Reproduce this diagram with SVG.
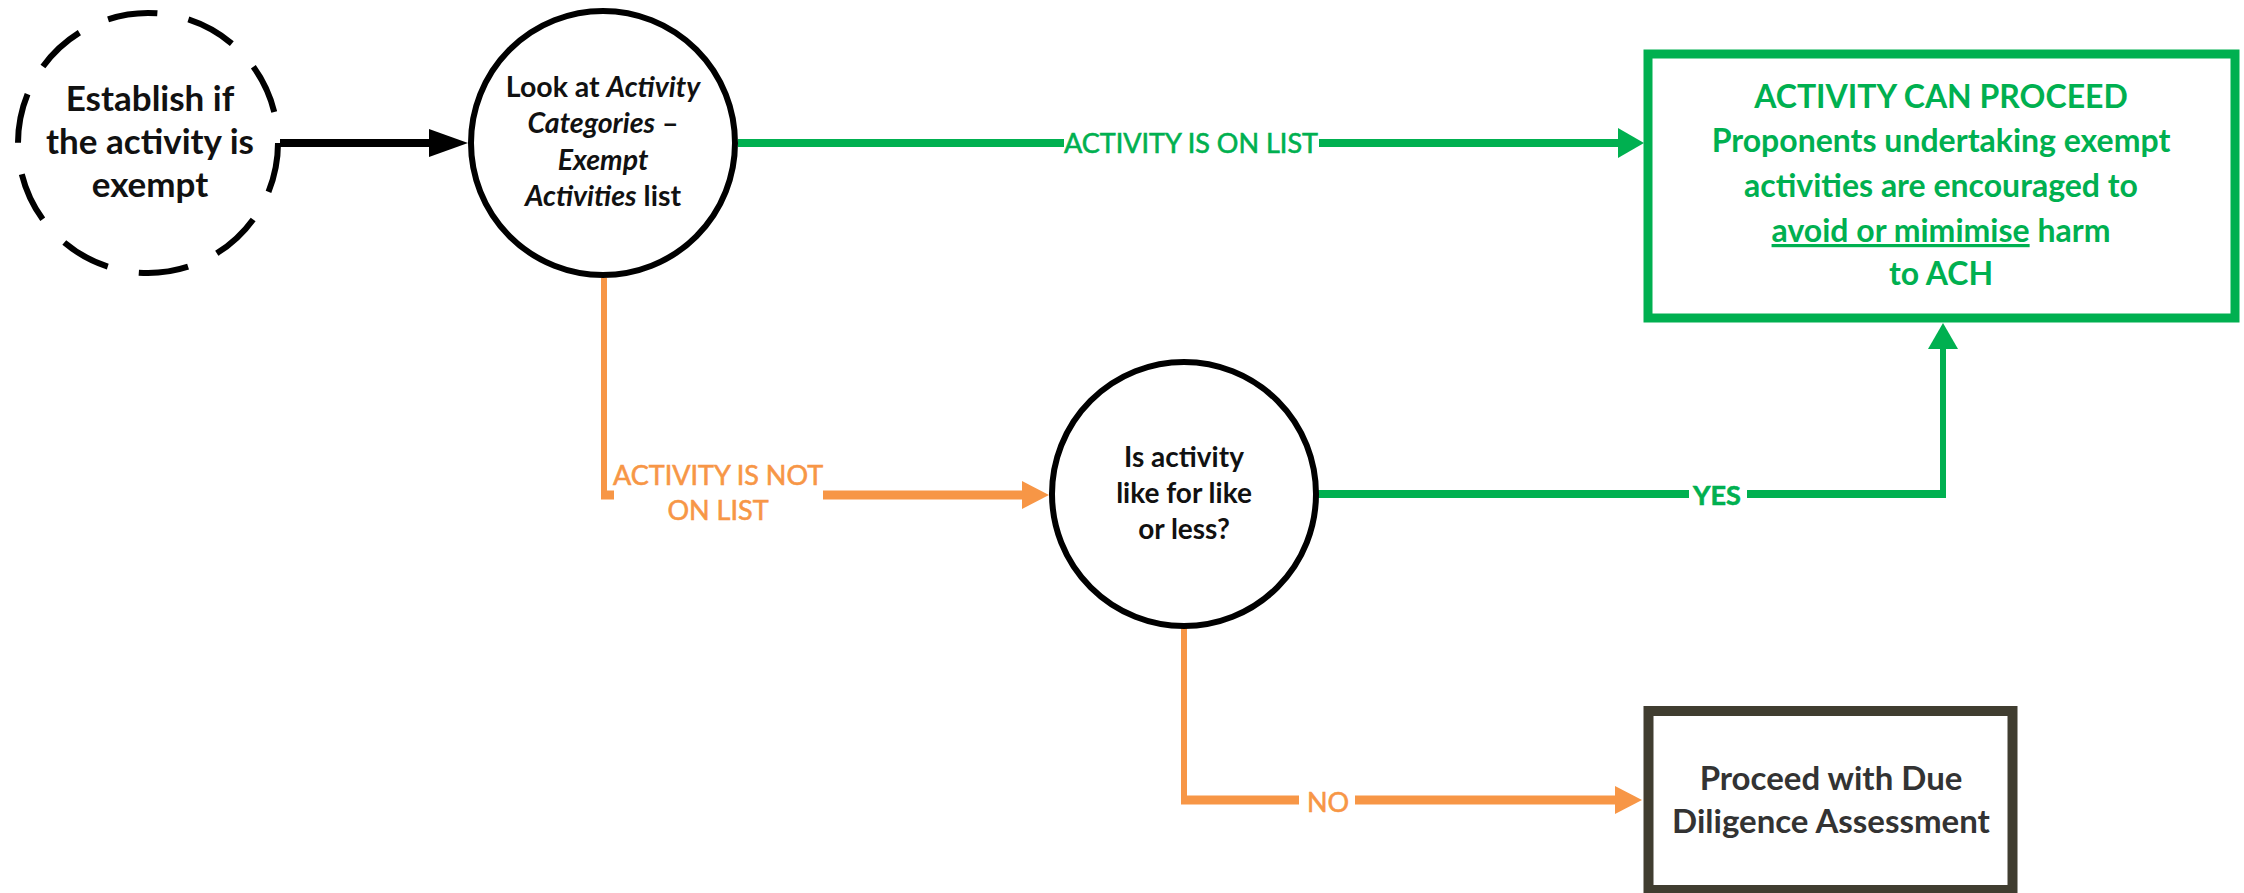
<svg xmlns="http://www.w3.org/2000/svg" width="2244" height="893" viewBox="0 0 2244 893">
<style>
.node{fill:#fff;stroke:#000;stroke-width:6}
.dash{stroke-dasharray:50 31.68}
.t{font-family:Lato,"Liberation Sans",sans-serif;font-weight:bold;text-anchor:middle;fill:#111}
.g{fill:#00B050}
.o{fill:#F79646}
.lbl{font-family:Lato,"Liberation Sans",sans-serif;text-anchor:middle;font-size:27px;stroke-width:0.6px}
.lbl.g{stroke:#00B050}
.lbl.o{stroke:#F79646}
.ck{fill:none;stroke-width:8}
.h{stroke-width:9}
.v{stroke-width:6}
.bk{stroke:#000}
.gr{stroke:#00B050}
.or{stroke:#F79646}
.bg{fill:#fff}
</style>
<defs>
<marker id="ab" markerUnits="userSpaceOnUse" markerWidth="40" markerHeight="28" refX="20" refY="14" orient="auto"><path d="M0,0 L39,14 L0,28 Z" fill="#000"/></marker>
<marker id="ag" markerUnits="userSpaceOnUse" markerWidth="27" markerHeight="30" refX="13" refY="15" orient="auto"><path d="M0,0 L26,15 L0,30 Z" fill="#00B050"/></marker>
<marker id="ao" markerUnits="userSpaceOnUse" markerWidth="28" markerHeight="28" refX="14" refY="14" orient="auto"><path d="M0,0 L27,14 L0,28 Z" fill="#F79646"/></marker>
</defs>
<rect width="2244" height="893" fill="#fff"/>
<g id="connectors">
<path class="ck bk" d="M280,143 H449" marker-end="url(#ab)"/>
<path class="ck gr" d="M738,143 H1631" marker-end="url(#ag)"/>
<rect class="bg" x="1064" y="126" width="255" height="34"/>
<text class="lbl g" x="1191" y="153">ACTIVITY IS ON LIST</text>
<path class="ck or v" d="M604,278 V499"/>
<path class="ck or h" d="M601,495 H1036" marker-end="url(#ao)"/>
<rect class="bg" x="614" y="462" width="209" height="66"/>
<text class="lbl o" x="718" y="485">ACTIVITY IS NOT</text>
<text class="lbl o" x="718" y="520">ON LIST</text>
<path class="ck gr" d="M1318,494 H1946"/>
<path class="ck gr v" d="M1943,498 V336" marker-end="url(#ag)"/>
<rect class="bg" x="1689" y="478" width="58" height="32"/>
<text class="lbl g" x="1717" y="505" font-size="30" font-weight="bold">YES</text>
<path class="ck or v" d="M1184,628 V804"/>
<path class="ck or h" d="M1181,800 H1629" marker-end="url(#ao)"/>
<rect class="bg" x="1299" y="784" width="56" height="32"/>
<text class="lbl o" x="1328" y="812" font-size="30">NO</text>
</g>
<g id="n1">
<circle class="node dash" cx="148" cy="143" r="130"/>
<text class="t" font-size="35"><tspan x="150" y="111">Establish if</tspan><tspan x="150" y="154">the activity is</tspan><tspan x="150" y="197">exempt</tspan></text>
</g>
<g id="n2">
<circle class="node" cx="603" cy="143" r="132"/>
<text class="t" font-size="28.5"><tspan x="603" y="97">Look at <tspan font-style="italic">Activity</tspan></tspan><tspan x="603" y="133"><tspan font-style="italic">Categories</tspan> –</tspan><tspan x="603" y="170" font-style="italic">Exempt</tspan><tspan x="603" y="206"><tspan font-style="italic">Activities</tspan> list</tspan></text>
</g>
<g id="n3">
<circle class="node" cx="1184" cy="494" r="132"/>
<text class="t" font-size="28"><tspan x="1184" y="467">Is activity</tspan><tspan x="1184" y="503">like for like</tspan><tspan x="1184" y="539">or less?</tspan></text>
</g>
<g id="n4">
<rect x="1648" y="54" width="587" height="264" fill="#fff" stroke="#00B050" stroke-width="9"/>
<text class="t g" font-size="32"><tspan x="1941" y="108">ACTIVITY CAN PROCEED</tspan><tspan x="1941" y="152">Proponents undertaking exempt</tspan><tspan x="1941" y="197">activities are encouraged to</tspan><tspan x="1941" y="242"><tspan text-decoration="underline">avoid or mimimise</tspan> harm</tspan><tspan x="1941" y="285">to ACH</tspan></text>
</g>
<g id="n5">
<rect x="1648.5" y="711" width="364" height="179" fill="#fff" stroke="#403D30" stroke-width="10"/>
<text class="t" font-size="33" style="fill:#333"><tspan x="1831" y="790">Proceed with Due</tspan><tspan x="1831" y="833">Diligence Assessment</tspan></text>
</g>
</svg>
